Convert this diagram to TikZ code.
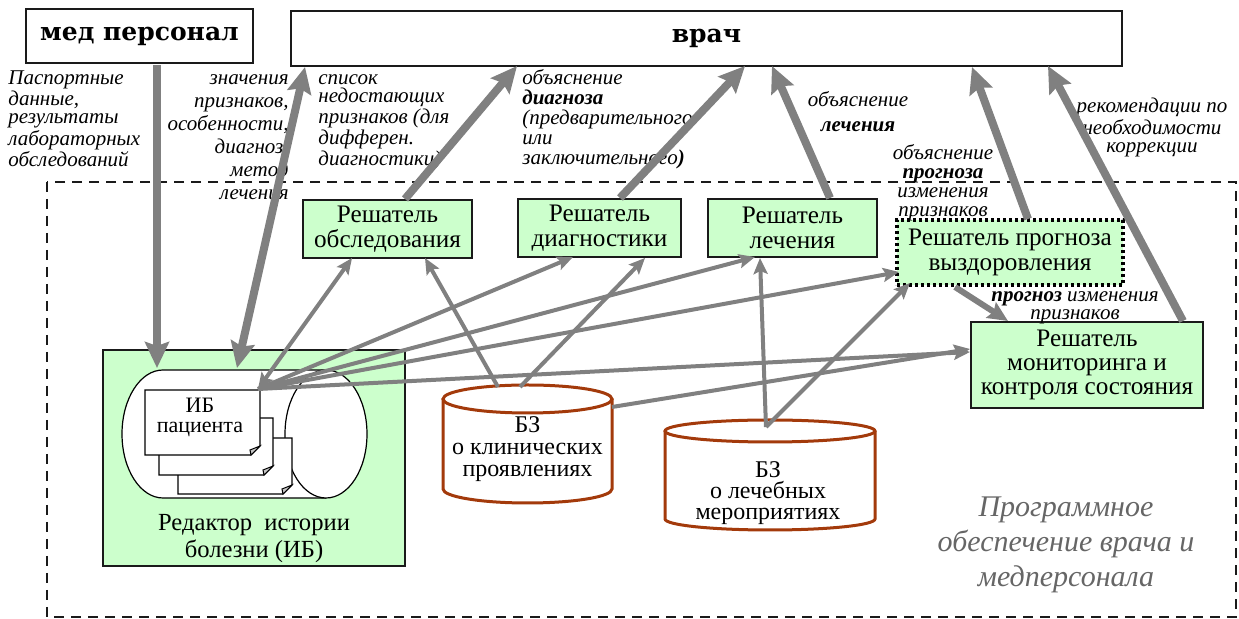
\documentclass[tikz,border=0pt]{standalone}
\usepackage{fontspec}
\setmainfont{Liberation Serif}
\newfontfamily\headfont{DejaVu Serif}
\usetikzlibrary{arrows.meta}
\definecolor{boxgreen}{HTML}{CCFFCC}
\definecolor{arrowgray}{HTML}{808080}
\definecolor{bzred}{HTML}{A33A0B}
\definecolor{frameline}{HTML}{1A1A1A}
\definecolor{softgray}{HTML}{666666}
\newcommand\ibpage[4]{%
  \filldraw[doc] (#1,#2) -- (#3,#2) -- (#3,{#4-9}) -- ({#3-9},#4) -- (#1,#4) -- cycle;
  \filldraw[fill=gray!45,draw=black,line width=0.5pt] (#3,{#4-9}) -- ({#3-10},{#4-5}) -- ({#3-9},#4) -- cycle;}
\begin{document}
\begin{tikzpicture}[x=0.5pt,y=-0.5pt,
  solver/.style={draw=frameline,fill=boxgreen,line width=0.8pt,inner sep=0pt,align=center,font=\fontsize{12.6}{12.5}\selectfont},
  lbl/.style={inner sep=0pt},
  thickarr/.style={draw=arrowgray,line width=4pt,-{Stealth[length=13pt,width=12pt,inset=2pt]}},
  thickboth/.style={draw=arrowgray,line width=4pt,{Stealth[length=13pt,width=12pt,inset=2pt]}-{Stealth[length=13pt,width=12pt,inset=2pt]}},
  midarr/.style={draw=arrowgray,line width=3pt,-{Stealth[length=10pt,width=9pt,inset=1.5pt]}},
  thinarr/.style={draw=arrowgray,line width=2pt,-{Stealth[length=8pt,width=7pt,inset=1.5pt]}},
  thinboth/.style={draw=arrowgray,line width=2pt,{Stealth[length=8pt,width=7pt,inset=1.5pt]}-{Stealth[length=8pt,width=7pt,inset=1.5pt]}},
  doc/.style={draw=black,fill=white,line width=0.6pt},
  bz/.style={draw=bzred,fill=white,line width=1.5pt},
  bztext/.style={inner sep=0pt,align=center,anchor=north},
  topbox/.style={draw=frameline,line width=0.8pt,fill=white,inner sep=0pt,font=\headfont\bfseries\fontsize{12.5}{14}\selectfont}
]
\useasboundingbox (0,0) rectangle (1239,619);

% dashed frame
\draw[frameline,line width=1pt,dash pattern=on 5pt off 3.5pt] (47,182) rectangle (1236,617);

% top boxes
\node[topbox,minimum width=113.5pt,minimum height=27pt] (med) at (139.5,36) {мед персонал};
\node[topbox,minimum width=415.5pt,minimum height=27.5pt] (vrach) at (706.5,38.5) {врач};

% solvers
\node[solver,minimum width=84.5pt,minimum height=29pt] (obsl) at (387.5,229) {Решатель\\обследования};
\node[solver,minimum width=81.5pt,minimum height=29pt] (diag) at (599.5,228) {Решатель\\диагностики};
\node[solver,minimum width=84.5pt,minimum height=29pt] (lech) at (792.5,228) {Решатель\\лечения};
\node[solver,draw=black,line width=1.6pt,dash pattern=on 1.6pt off 1.4pt,minimum width=113pt,minimum height=32.5pt] (progn) at (1010,252.5) {Решатель прогноза\\выздоровления};
\node[solver,minimum width=116pt,minimum height=43pt,font=\fontsize{12.6}{12.2}\selectfont] (monit) at (1087,365) {Решатель\\мониторинга и\\контроля состояния};

% editor
\node[draw=frameline,fill=boxgreen,line width=1pt,minimum width=151pt,minimum height=108pt,inner sep=0pt] (editor) at (254,458) {};
\filldraw[fill=white,draw=black,line width=0.6pt] (326,370) -- (163,370) arc[start angle=90,end angle=270,x radius=20.5pt,y radius=32pt] -- (326,498);
\filldraw[fill=white,draw=black,line width=0.6pt] (326,434) ellipse[x radius=20.5pt,y radius=32pt];
\ibpage{178}{438}{292}{494}
\ibpage{159}{418}{273}{475}
\ibpage{145}{390}{260}{455}
\node[inner sep=0pt,align=center,anchor=north,font=\fontsize{11}{10}\selectfont] (ibtext) at (200,398) {ИБ\\пациента};
\node[inner sep=0pt,align=center,anchor=north,font=\fontsize{12.3}{13.5}\selectfont] (edcap) at (254,514) {Редактор\ \ истории\\болезни (ИБ)};

% knowledge bases
\filldraw[bz] (443,399) -- (443,489) arc[start angle=180,end angle=360,x radius=42.25pt,y radius=7pt] -- (612,399);
\filldraw[bz] (527.5,399) ellipse[x radius=42.25pt,y radius=7pt];
\node[bztext,font=\fontsize{12}{11}\selectfont] (bz1) at (527.5,416) {БЗ\\о клинических\\проявлениях};
\filldraw[bz] (665,431) -- (665,519) arc[start angle=180,end angle=360,x radius=52.5pt,y radius=5.5pt] -- (875,431);
\filldraw[bz] (770,431) ellipse[x radius=52.5pt,y radius=5.5pt];
\node[bztext,font=\fontsize{12}{10.5}\selectfont] (bz2) at (768,461) {БЗ\\о лечебных\\мероприятиях};

% labels
\node[lbl,anchor=north west,align=left,font=\itshape\fontsize{10.5}{9.3}\selectfont] (lpass) at (8,70) {Паспортные\\данные,\\результаты\\лабораторных\\обследований};
\node[lbl,anchor=north east,align=right,font=\itshape\fontsize{10.5}{11.5}\selectfont] (lval) at (289,74) {значения\\признаков,\\особенности,\\диагноз,\\метод\\лечения};
\node[lbl,anchor=north west,align=left,font=\itshape\fontsize{10.5}{9.2}\selectfont] (llist) at (318,74) {список\\недостающих\\признаков (для\\дифферен.\\диагностики)};
\node[lbl,anchor=north west,align=left,font=\itshape\fontsize{10.5}{10}\selectfont] (ldiag) at (522,69) {объяснение\\\textbf{диагноза}\\(предварительного\\или\\заключительного\textbf{)}};
\node[lbl,anchor=north,align=center,font=\itshape\fontsize{10.5}{12.5}\selectfont] (llech) at (858,91) {объяснение\\\textbf{лечения}};
\node[lbl,anchor=north,align=center,font=\itshape\fontsize{10.5}{9.5}\selectfont] (lprog) at (943,144) {объяснение\\\textbf{прогноза}\\изменения\\признаков};
\node[lbl,anchor=north,align=center,font=\itshape\fontsize{10.5}{9}\selectfont] (lrec) at (1152,98) {рекомендации по\\необходимости\\коррекции};
\node[lbl,anchor=north,align=center,font=\itshape\fontsize{10.5}{9}\selectfont] (lprog2) at (1075,291) {\textbf{прогноз} изменения\\признаков};
\node[lbl,anchor=north,align=center,text=softgray,font=\itshape\fontsize{15}{17.5}\selectfont] (po) at (1066,496) {Программное\\обеспечение врача и\\медперсонала};

% connector end points
\coordinate (medOut) at (157,65);
\coordinate (histIn) at (157,368);
\coordinate (histUp) at (237,368);
\coordinate (vrA) at (305,67);
\coordinate (obslUp) at (405,199);
\coordinate (vrB) at (517,66);
\coordinate (diagUp) at (620,198);
\coordinate (vrC) at (745,66);
\coordinate (lechUp) at (830,198);
\coordinate (vrD) at (772,66);
\coordinate (prognUp) at (1028,219);
\coordinate (vrE) at (972,67);
\coordinate (monitUp) at (1183,321);
\coordinate (vrF) at (1048,66);
\coordinate (prognOut) at (955,287);
\coordinate (monitIn) at (1008,321);
\coordinate (ib) at (258,389);
\coordinate (obslA) at (352,258);
\coordinate (obslB) at (425,258);
\coordinate (diagA) at (573,257);
\coordinate (diagB) at (645,258);
\coordinate (lechA) at (755,257);
\coordinate (lechB) at (760,258);
\coordinate (prognA) at (899,272);
\coordinate (prognB) at (910,283);
\coordinate (monitA) at (970,352);
\coordinate (monitB) at (970,349);
\coordinate (bzAa) at (498,387);
\coordinate (bzAb) at (520,387);
\coordinate (bzAc) at (612,407);
\coordinate (bzB) at (766,427);

% thin connectors
\draw[thinboth] (ib) -- (obslA);
\draw[thinarr] (ib) -- (diagA);
\draw[thinarr] (ib) -- (lechA);
\draw[thinarr] (ib) -- (prognA);
\draw[thinarr] (ib) -- (monitA);
\draw[thinarr] (bzAa) -- (obslB);
\draw[thinarr] (bzAb) -- (diagB);
\draw[thinarr] (bzAc) -- (monitB);
\draw[thinarr] (bzB) -- (lechB);
\draw[thinarr] (bzB) -- (prognB);

% thick connectors
\draw[thickarr] (medOut) -- (histIn);
\draw[thickboth] (histUp) -- (vrA);
\draw[thickarr] (obslUp) -- (vrB);
\draw[thickarr] (diagUp) -- (vrC);
\draw[thickarr] (lechUp) -- (vrD);
\draw[thickarr] (prognUp) -- (vrE);
\draw[thickarr] (monitUp) -- (vrF);
\draw[midarr] (prognOut) -- (monitIn);
\end{tikzpicture}
\end{document}
